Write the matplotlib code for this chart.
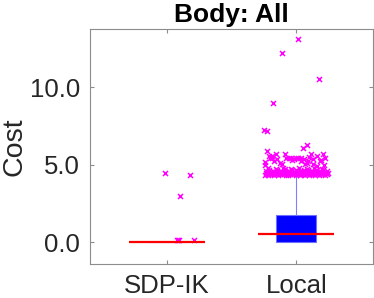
import matplotlib
matplotlib.use("Agg")
import matplotlib.pyplot as plt
from matplotlib.ticker import FormatStrFormatter

plt.rcParams['font.family'] = ['Liberation Sans', 'DejaVu Sans']

labels = ['SDP-IK', 'Local']
# box statistics
q1 = [0.0, 0.03]
q3 = [0.0, 1.76]
med = [0.0, 0.53]
whislo = [0.0, 0.0]
whishi = [0.0, 4.33]

# outliers: horizontal jitter offset and value
sdp_off = [-0.013, 0.178, 0.098, 0.075, 0.085, 0.095, 0.211]
sdp_val = [4.47, 4.36, 3.01, 0.12, 0.12, 0.12, 0.12]

loc_off = [0.01, -0.113, 0.178, -0.18, -0.248, -0.229, -0.229, 0.054, 0.080,
           -0.21, -0.19, -0.16, -0.20, -0.185, -0.15, -0.126, -0.11, -0.08,
           -0.06, -0.04, -0.02, 0.0, 0.015, 0.04, 0.09, 0.08, 0.10, 0.13,
           0.16, 0.18, 0.21, 0.225, 0.215, 0.16, 0.13, 0.06, -0.24, -0.24,
           -0.09, -0.03, 0.035, 0.11, 0.19, -0.17, 0.07,
           -0.245, -0.23, -0.215, -0.20, -0.185, -0.17, -0.155, -0.14, -0.125,
           -0.11, -0.095, -0.08, -0.065, -0.05, -0.035, -0.02, -0.005, 0.01,
           0.025, 0.04, 0.055, 0.07, 0.085, 0.10, 0.115, 0.13, 0.145, 0.16,
           0.175, 0.19, 0.205, 0.22, 0.235,
           -0.238, -0.222, -0.207, -0.192, -0.177, -0.162, -0.147, -0.132,
           -0.117, -0.102, -0.087, -0.072, -0.057, -0.042, -0.027, -0.012,
           0.003, 0.018, 0.033, 0.048, 0.063, 0.078, 0.093, 0.108, 0.123,
           0.138, 0.153, 0.168, 0.183, 0.198, 0.213, 0.228, 0.243,
           -0.235, -0.21, -0.18, -0.15, -0.12, -0.09, -0.06, -0.03, 0.0,
           0.03, 0.06, 0.09, 0.12, 0.15, 0.18, 0.21, 0.235,
           -0.22, -0.16, -0.10, -0.04, 0.02, 0.08, 0.14, 0.20]
loc_val = [13.14, 12.19, 10.54, 8.99, 7.24, 7.18, 5.91, 6.10, 6.28,
           5.55, 5.58, 5.68, 5.42, 5.45, 5.35, 5.10, 5.05, 5.45,
           5.42, 5.44, 5.40, 5.44, 5.42, 5.42, 5.25, 5.10, 5.52, 5.40,
           5.55, 5.25, 5.68, 5.45, 5.00, 4.95, 5.05, 5.35, 5.00, 5.20,
           5.70, 5.30, 5.25, 5.72, 5.32, 5.25, 5.05,
           4.37, 4.39, 4.36, 4.40, 4.38, 4.37, 4.41, 4.36, 4.39,
           4.38, 4.40, 4.37, 4.36, 4.39, 4.41, 4.38, 4.37, 4.40,
           4.36, 4.39, 4.38, 4.37, 4.41, 4.36, 4.40, 4.38, 4.37, 4.39,
           4.36, 4.40, 4.38, 4.37, 4.39,
           4.48, 4.52, 4.46, 4.55, 4.50, 4.47, 4.53, 4.49,
           4.56, 4.46, 4.51, 4.54, 4.48, 4.52, 4.47, 4.55,
           4.50, 4.46, 4.53, 4.49, 4.56, 4.47, 4.51, 4.48, 4.54,
           4.50, 4.46, 4.52, 4.55, 4.48, 4.51, 4.47, 4.49,
           4.62, 4.66, 4.60, 4.68, 4.63, 4.70, 4.61, 4.65, 4.67,
           4.60, 4.64, 4.69, 4.62, 4.66, 4.61, 4.65, 4.63,
           4.78, 4.74, 4.80, 4.76, 4.79, 4.73, 4.77, 4.75]

stats = []
for i in range(2):
    stats.append(dict(q1=q1[i], q3=q3[i], med=med[i], whislo=whislo[i],
                      whishi=whishi[i], fliers=[], label=labels[i]))

fig = plt.figure(figsize=(3.74, 2.98), dpi=100)
ax = fig.add_axes([0.2406, 0.114, 0.7567, 0.7886])

ax.bxp(stats, positions=[1, 2], widths=0.31, patch_artist=True,
       showfliers=False, showcaps=False,
       boxprops=dict(facecolor='#0000ff', edgecolor='#7070ff', linewidth=0.8),
       whiskerprops=dict(color='#8080ff', linewidth=0.8),
       medianprops=dict(linewidth=0))
ax.hlines(med, [p - 0.295 for p in [1, 2]], [p + 0.295 for p in [1, 2]],
          colors='#ff0000', linewidth=1.6, zorder=4)

ax.plot([1 + o for o in sdp_off], sdp_val, linestyle='None', marker='x',
        color='#ff00ff', markersize=3.6, mew=1.1, zorder=3)
ax.plot([2 + o for o in loc_off], loc_val, linestyle='None', marker='x',
        color='#ff00ff', markersize=3.6, mew=1.1, zorder=3)

ax.set_xlim(0.405, 2.593)
ax.set_ylim(-1.4, 13.76)
ax.set_xticks([1, 2])
ax.set_xticklabels(labels)
ax.set_yticks([0, 5, 10])
ax.yaxis.set_major_formatter(FormatStrFormatter('%.1f'))
ax.tick_params(direction='in', length=3, width=0.8, color='#8c8c8c',
               labelcolor='#262626', labelsize=18.5, top=True, right=True,
               pad=7)
for s in ax.spines.values():
    s.set_color('#8c8c8c')
    s.set_linewidth(0.8)

ax.set_ylabel('Cost', fontsize=20.5, color='#262626', labelpad=2)
ax.set_title('Body: All', fontsize=19, fontweight='bold', pad=5)

fig.savefig('out.png', dpi=100)
